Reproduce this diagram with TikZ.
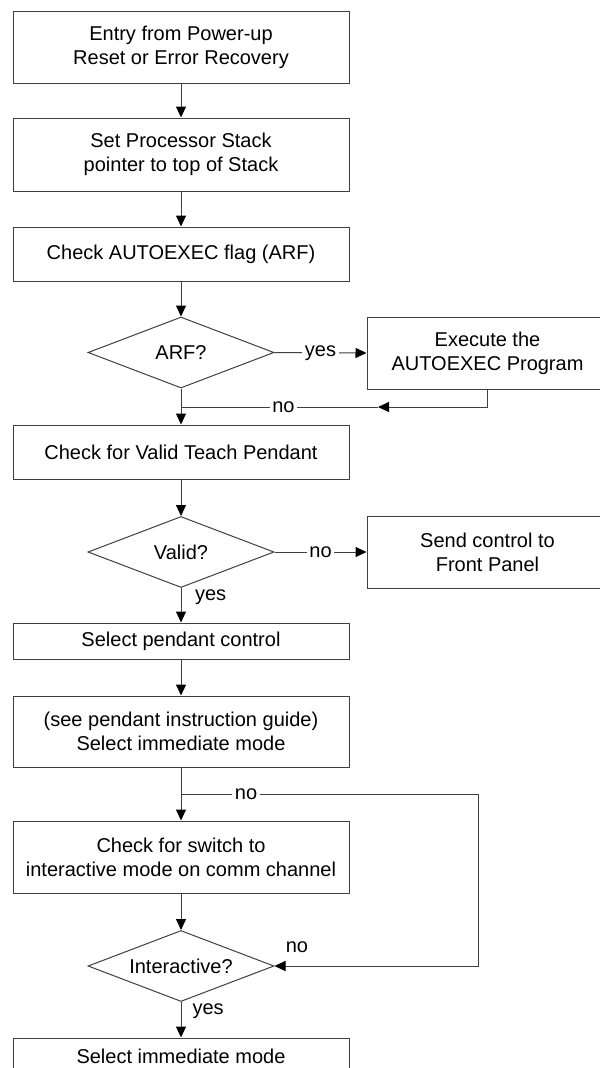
\documentclass[tikz,border=0pt]{standalone}
\usepackage{fontspec}
\setmainfont{Liberation Sans}
\usetikzlibrary{shapes.geometric,arrows.meta}
\definecolor{linegray}{HTML}{404040}
\def\u{0.75pt}
\begin{document}
\begin{tikzpicture}[x=0.75pt, y=-0.75pt,
  font=\fontsize{15pt}{18pt}\selectfont,
  line width=0.75pt,
  ln/.style={draw=linegray},
  box/.style={draw=linegray, rectangle, inner sep=0pt, minimum width=336*\u, align=center},
  sidebox/.style={box, minimum width=241*\u, minimum height=72*\u},
  dec/.style={draw=linegray, diamond, aspect=2.62, inner sep=0pt, minimum width=186*\u, minimum height=71*\u},
  arr/.style={draw=linegray, -{Triangle[length=8.25pt, width=7.5pt, color=black]}},
  lbl/.style={fill=white, inner sep=2pt},
  sidelbl/.style={inner sep=0pt, anchor=west}
]
\path[use as bounding box, fill=white] (0,0) rectangle (600,1068);

% process boxes and decisions
\node[box, minimum height=72*\u] (b1) at (181,47) {Entry from Power-up\\Reset or Error Recovery};
\node[box, minimum height=73*\u] (b2) at (181,154.5) {Set Processor Stack\\pointer to top of Stack};
\node[box, minimum height=54*\u] (b3) at (181,254) {Check AUTOEXEC flag (ARF)};
\node[dec] (d1) at (181,352.5) {ARF?};
\node[sidebox] (e1) at (487.5,353) {Execute the\\AUTOEXEC Program};
\node[box, minimum height=54*\u] (b4) at (181,452) {Check for Valid Teach Pendant};
\node[dec] (d2) at (181,552) {Valid?};
\node[sidebox] (e2) at (487.5,552) {Send control to\\Front Panel};
\node[box, minimum height=36*\u] (b5) at (181,641) {Select pendant control};
\node[box, minimum height=71*\u] (b6) at (181,731.5) {(see pendant instruction guide)\\Select immediate mode};
\node[box, minimum height=72*\u] (b7) at (181,857) {Check for switch to\\interactive mode on comm channel};
\node[dec] (d3) at (181,966) {Interactive?};
\node[box, minimum height=36*\u] (b8) at (181,1056) {Select immediate mode};

% junctions and bends
\coordinate (j1) at (181,407);
\coordinate (m1) at (378,407);
\coordinate (j2) at (181,794);
\coordinate (c2) at (478,794);

% main flow
\draw[arr] (b1.south) -- (b2.north);
\draw[arr] (b2.south) -- (b3.north);
\draw[arr] (b3.south) -- (d1.north);
\draw[arr] (d1.east) -- node[lbl]{yes} (e1.west);
\draw[arr] (d1.south) -- (b4.north);
\draw[arr] (e1.south) |- (m1);
\draw[ln] (m1) -- node[lbl, pos=0.48]{no} (j1);
\draw[arr] (b4.south) -- (d2.north);
\draw[arr] (d2.east) -- node[lbl]{no} (e2.west);
\draw[arr] (d2.south) -- node[sidelbl, pos=0.26, xshift=13.5*\u]{yes} (b5.north);
\draw[arr] (b5.south) -- (b6.north);
\draw[arr] (b6.south) -- (b7.north);
\draw[arr] (j2) -- node[lbl, pos=0.219]{no} (c2) |- (d3.east);
\node (n4) at (297,947) {no};
\draw[arr] (b7.south) -- (d3.north);
\draw[arr] (d3.south) -- node[sidelbl, pos=0.25, xshift=11*\u]{yes} (b8.north);
\end{tikzpicture}
\end{document}
